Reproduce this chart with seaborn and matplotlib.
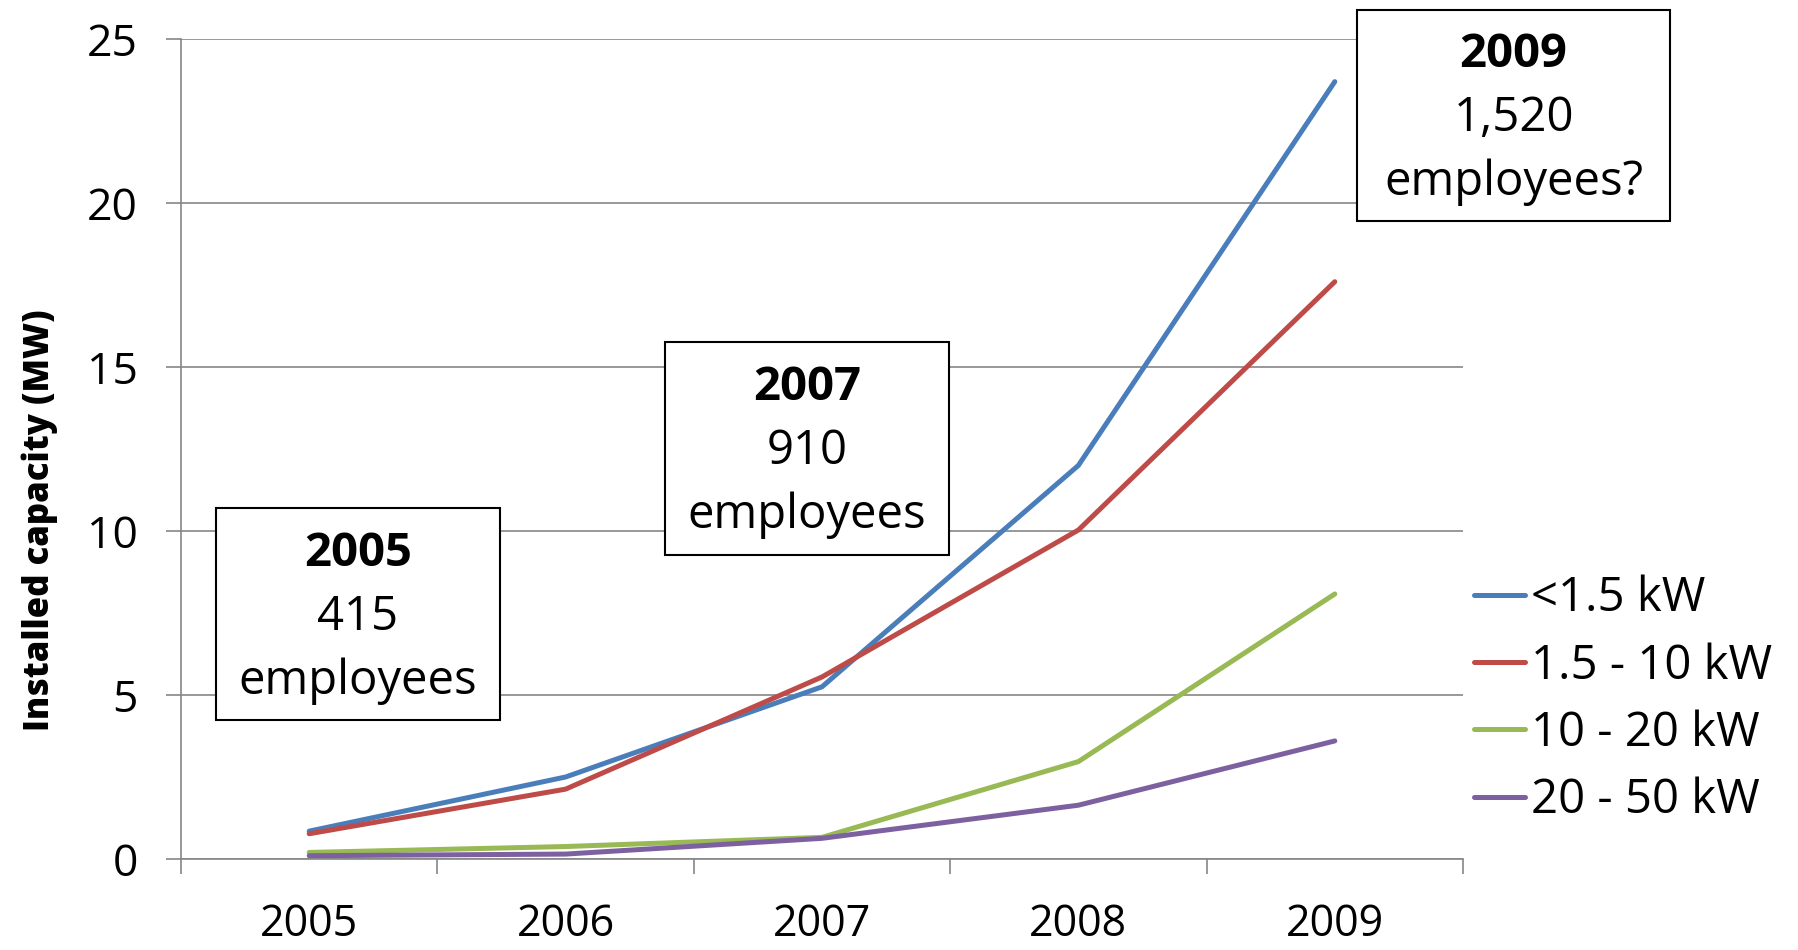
import matplotlib
matplotlib.use("Agg")
import matplotlib.pyplot as plt
import seaborn as sns
import pandas as pd
from matplotlib.patches import Rectangle

years = ["2005", "2006", "2007", "2008", "2009"]
series_names = ["<1.5 kW", "1.5 - 10 kW", "10 - 20 kW", "20 - 50 kW"]
cap_lt_1_5 = [0.85, 2.5, 5.25, 12.0, 23.7]
cap_1_5_10 = [0.77, 2.13, 5.55, 10.03, 17.6]
cap_10_20 = [0.2, 0.38, 0.66, 2.97, 8.08]
cap_20_50 = [0.1, 0.15, 0.63, 1.64, 3.6]
colors = ["#4A7EBB", "#BE4B48", "#98B954", "#7D60A0"]
y_ticks = [0, 5, 10, 15, 20, 25]

box_years = ["2005", "2007", "2009"]
box_counts = ["415", "910", "1,520"]
box_suffix = ["employees", "employees", "employees?"]

sns.set_theme(style="white")
plt.rcParams["font.family"] = ["Open Sans", "DejaVu Sans"]
plt.rcParams["text.color"] = "black"

W, H = 1798, 950
fig = plt.figure(figsize=(W / 100, H / 100), dpi=100)
ax = fig.add_axes([181 / W, 1 - 859 / H, (1463 - 181) / W, (859 - 39) / H])

rows = []
for name, vals in zip(series_names, [cap_lt_1_5, cap_1_5_10, cap_10_20, cap_20_50]):
    for i, v in enumerate(vals):
        rows.append({"x": i, "value": v, "series": name})
df = pd.DataFrame(rows)

sns.lineplot(data=df, x="x", y="value", hue="series", hue_order=series_names,
             palette=colors, linewidth=3.6, ax=ax, legend=True)

ax.set_xlim(-0.5, 4.5)
ax.set_ylim(0, 25)
ax.set_yticks(y_ticks)
ax.set_yticklabels([str(t) for t in y_ticks])
ax.set_xticks(range(len(years)))
ax.set_xticklabels(years)
ax.set_xticks([i - 0.5 for i in range(len(years) + 1)], minor=True)
ax.tick_params(axis="x", which="major", length=0, pad=31, labelsize=31, labelcolor="black")
ax.tick_params(axis="x", which="minor", length=11, width=1.2, color="#868686", direction="out", bottom=True)
ax.tick_params(axis="y", which="major", length=11, width=1.2, color="#868686", direction="out",
               pad=20, labelsize=32, left=True, labelcolor="black")
ax.grid(axis="y", color="#868686", linewidth=1.2)
ax.grid(axis="x", visible=False)
for s in ["top", "right"]:
    ax.spines[s].set_visible(False)
for s in ["left", "bottom"]:
    ax.spines[s].set_color("#868686")
    ax.spines[s].set_linewidth(1.2)
ax.set_axisbelow(True)
ax.set_xlabel("")
ax.set_ylabel("")

fig.text(40 / W, 1 - 520 / H, "Installed capacity (MW)", rotation=90, ha="center", va="center",
         fontsize=25, fontweight="heavy", color="black")

handles, labels = ax.get_legend_handles_labels()
leg = ax.legend(handles, labels, loc="center left", bbox_to_anchor=(1474 / W, 1 - 699.5 / H),
                bbox_transform=fig.transFigure, frameon=False, fontsize=34, borderaxespad=0,
                borderpad=0, handlelength=1.08, handletextpad=0.12, labelspacing=0.42)
for line in leg.get_lines():
    line.set_linewidth(3.6)
for t in leg.get_texts():
    t.set_color("black")

boxes = [(216, 508, 500, 720), (665, 342, 949, 555), (1357, 10, 1670, 221)]
for (x0, y0, x1, y1), yr, cnt, suf in zip(boxes, box_years, box_counts, box_suffix):
    fig.patches.append(Rectangle((x0 / W, 1 - y1 / H), (x1 - x0) / W, (y1 - y0) / H,
                                 transform=fig.transFigure, fill=True, facecolor="white",
                                 edgecolor="black", linewidth=1.5, zorder=5))
    cx = (x0 + x1) / 2 / W
    yc = (y0 + y1) / 2 + 3
    fig.text(cx, 1 - (yc - 64) / H, yr, ha="center", va="center", fontsize=34,
             fontweight="bold", zorder=6, color="black")
    fig.text(cx, 1 - yc / H, cnt, ha="center", va="center", fontsize=34, zorder=6, color="black")
    fig.text(cx, 1 - (yc + 64) / H, suf, ha="center", va="center", fontsize=34, zorder=6,
             color="black")

fig.savefig("out.png", dpi=100)
